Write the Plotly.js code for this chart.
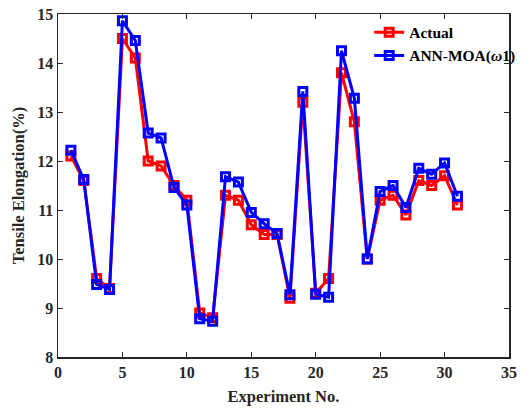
<!DOCTYPE html>
<html>
<head>
<meta charset="utf-8">
<script src="https://cdn.plot.ly/plotly-3.0.1.min.js"></script>
<style>html,body{margin:0;padding:0;background:#fff;}#chart{width:532px;height:408px;}</style>
</head>
<body>
<div id="chart"></div>
<script>
const experiments = [1,2,3,4,5,6,7,8,9,10,11,12,13,14,15,16,17,18,19,20,21,22,23,24,25,26,27,28,29,30,31];
const actual = [12.1,11.6,9.6,9.4,14.5,14.1,12.0,11.9,11.5,11.2,8.9,8.8,11.3,11.2,10.7,10.5,10.5,9.2,13.2,9.3,9.6,13.8,12.8,10.0,11.2,11.3,10.9,11.6,11.5,11.7,11.1];
const annMoa = [12.22,11.62,9.48,9.38,14.86,14.46,12.57,12.47,11.46,11.1,8.78,8.73,11.68,11.57,10.95,10.72,10.52,9.27,13.42,9.28,9.22,14.25,13.28,10.0,11.38,11.5,11.05,11.85,11.73,11.96,11.28];
const seriesNames = ['Actual', 'ANN-MOA(<i>ω</i>1)'];

const font = {family: '"Liberation Serif", "Times New Roman", serif', color: '#262626'};
const traces = [
  {x: experiments, y: actual, name: seriesNames[0], mode: 'lines+markers',
   line: {color: '#ff0000', width: 3},
   marker: {symbol: 'square-open', size: 8, color: '#ff0000', line: {width: 3, color: '#ff0000'}}},
  {x: experiments, y: annMoa, name: seriesNames[1], mode: 'lines+markers',
   line: {color: '#0000ff', width: 3},
   marker: {symbol: 'square-open', size: 8, color: '#0000ff', line: {width: 3, color: '#0000ff'}}}
];
const axisCommon = {
  showline: true, mirror: 'ticks', linecolor: '#262626', linewidth: 1.5,
  ticks: 'inside', ticklen: 5, tickcolor: '#262626', showgrid: false, zeroline: false,
  automargin: false,
  tickfont: Object.assign({}, font, {size: 16, weight: 'bold'})
};
const layout = {
  width: 532, height: 408,
  margin: {l: 58, r: 18, t: 14, b: 51},
  paper_bgcolor: '#ffffff', plot_bgcolor: '#ffffff',
  font: font,
  showlegend: true,
  legend: {x: 0.69, y: 0.995, xanchor: 'left', yanchor: 'top', bgcolor: 'rgba(0,0,0,0)',
           font: Object.assign({}, font, {size: 15.5, weight: 'bold', color: '#000'}), tracegroupgap: 0},
  xaxis: Object.assign({}, axisCommon, {range: [0, 35], dtick: 5, tick0: 0,
    title: {text: '<b>Experiment No.</b>', font: Object.assign({}, font, {size: 16.5}), standoff: 10}}),
  yaxis: Object.assign({}, axisCommon, {range: [8, 15], dtick: 1, tick0: 8,
    title: {text: '<b>Tensile Elongation(%)</b>', font: Object.assign({}, font, {size: 16.5}), standoff: 8}})
};
Plotly.newPlot('chart', traces, layout, {displayModeBar: false, staticPlot: true});
</script>
</body>
</html>
